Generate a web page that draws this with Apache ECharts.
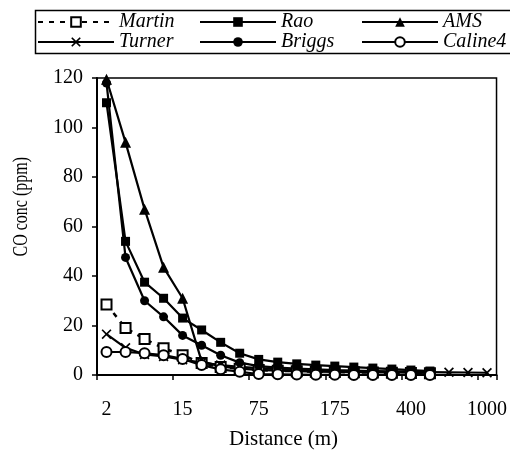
<!DOCTYPE html>
<html>
<head>
<meta charset="utf-8">
<script src="https://cdn.jsdelivr.net/npm/echarts@6/dist/echarts.min.js"></script>
<style>
  html, body { margin: 0; padding: 0; background: #fff; }
  #chart { width: 510px; height: 456px; }
</style>
</head>
<body>
<div id="chart"></div>
<script>
// Receptor distances (m) along the x axis
const distances = ['2', '5', '8', '10', '15', '20', '30', '50', '75', '100', '125',
  '150', '175', '200', '250', '300', '400', '500', '600', '800', '1000'];

// Predicted CO concentrations (ppm) for each model
const martin  = [28.5, 19, 14.5, 10.8, 8, 4.8, 3.2, 2.5, 2, 1.7, 1.5, 1.3, 1.2, 1.1, 1.0, 0.9, 0.8, 0.7];
const rao     = [110, 54, 37.5, 31, 23, 18.2, 13.2, 8.8, 6.3, 5.2, 4.5, 4.0, 3.6, 3.2, 2.8, 2.4, 2.0, 1.6];
const ams     = [119.5, 94, 67, 43.5, 31, 5.5, 3.5, 2.6, 2.1, 1.8, 1.6, 1.4, 1.3, 1.2, 1.1, 1.0, 0.9, 0.8];
const turner  = [16.5, 11, 8.3, 7.5, 6.2, 5, 4, 3.3, 2.8, 2.4, 2.1, 1.9, 1.7, 1.6, 1.5, 1.4, 1.3, 1.2, 1.1, 1.0, 0.9];
const briggs  = [118, 47.5, 30, 23.5, 16, 12, 8, 5, 3.6, 3.0, 2.6, 2.3, 2.0, 1.8, 1.6, 1.4, 1.2, 1.0];
const caline4 = [9.3, 9.3, 8.8, 8, 6.5, 4, 2.3, 1.3, 0.4, 0.3, 0.2, 0.1, 0.1, 0, 0, 0, 0, 0];

// Y axis ticks
const yMin = 0, yMax = 120, yStep = 20;

const serif = 'Liberation Serif';
const xMark = 'path://M0,1.2L1.2,0L5,3.8L8.8,0L10,1.2L6.2,5L10,8.8L8.8,10L5,6.2L1.2,10L0,8.8L3.8,5Z';

function lineSeries(name, data, symbol, opts) {
  return Object.assign({
    name: name,
    type: 'line',
    data: data,
    symbol: symbol,
    symbolSize: 9,
    showAllSymbol: true,
    lineStyle: { color: '#000', width: 2.2 },
    itemStyle: { color: '#000', borderColor: '#000', borderWidth: 0 },
    emphasis: { disabled: true },
    animation: false
  }, opts || {});
}

const chart = echarts.init(document.getElementById('chart'), null, { renderer: 'canvas' });
chart.setOption({
  backgroundColor: '#fff',
  animation: false,
  grid: {
    left: 97, right: 13, top: 78, bottom: 81,
    show: true, borderColor: '#000', borderWidth: 1.5
  },
  legend: {
    left: 33, top: 9, width: 560,
    orient: 'horizontal',
    padding: [3, 5, 3, 4],
    itemGap: 0,
    itemWidth: 76,
    itemHeight: 12,
    borderWidth: 0,
    data: ['Martin', 'Rao', 'AMS', 'Turner', 'Briggs', 'Caline4'],
    textStyle: {
      fontFamily: serif, fontStyle: 'italic', fontSize: 20, color: '#000',
      width: 80, lineHeight: 18
    }
  },
  xAxis: {
    type: 'category',
    data: distances,
    boundaryGap: true,
    axisLine: { lineStyle: { color: '#000', width: 2 } },
    axisTick: { show: true, interval: 3, length: 5, inside: false, lineStyle: { color: '#000', width: 1.5 } },
    axisLabel: { interval: 3, margin: 25, fontFamily: serif, fontSize: 20, color: '#000' },
    splitLine: { show: false }
  },
  yAxis: {
    type: 'value',
    min: yMin, max: yMax, interval: yStep,
    axisLine: { show: true, lineStyle: { color: '#000', width: 2 } },
    axisTick: { show: true, length: 5, lineStyle: { color: '#000', width: 1.5 } },
    axisLabel: { margin: 14, fontFamily: serif, fontSize: 20, color: '#000' },
    splitLine: { show: false }
  },
  graphic: [
    {
      type: 'rect', left: 33, top: 8, z: 100,
      shape: { width: 500, height: 43 },
      style: { fill: 'none', stroke: '#000', lineWidth: 1.5 }
    },
    {
      type: 'text', left: 12, top: 157, rotation: Math.PI / 2, scaleY: 1.25,
      style: { text: 'CO conc (ppm)', fontFamily: serif, fontSize: 16, fill: '#000' }
    },
    {
      type: 'text', left: 229, top: 429,
      style: { text: 'Distance (m)', fontFamily: serif, fontSize: 21, fill: '#000' }
    }
  ],
  series: [
    lineSeries('Martin', martin, 'rect', {
      symbolSize: 10,
      lineStyle: { color: '#000', width: 2.5, type: [5, 6] },
      itemStyle: { color: '#fff', borderColor: '#000', borderWidth: 2 }
    }),
    lineSeries('Rao', rao, 'rect'),
    lineSeries('AMS', ams, 'triangle', { symbolSize: 11 }),
    lineSeries('Turner', turner, xMark, { symbolSize: 10 }),
    lineSeries('Briggs', briggs, 'circle'),
    lineSeries('Caline4', caline4, 'circle', {
      symbolSize: 10,
      itemStyle: { color: '#fff', borderColor: '#000', borderWidth: 2 }
    })
  ]
});
</script>
</body>
</html>
